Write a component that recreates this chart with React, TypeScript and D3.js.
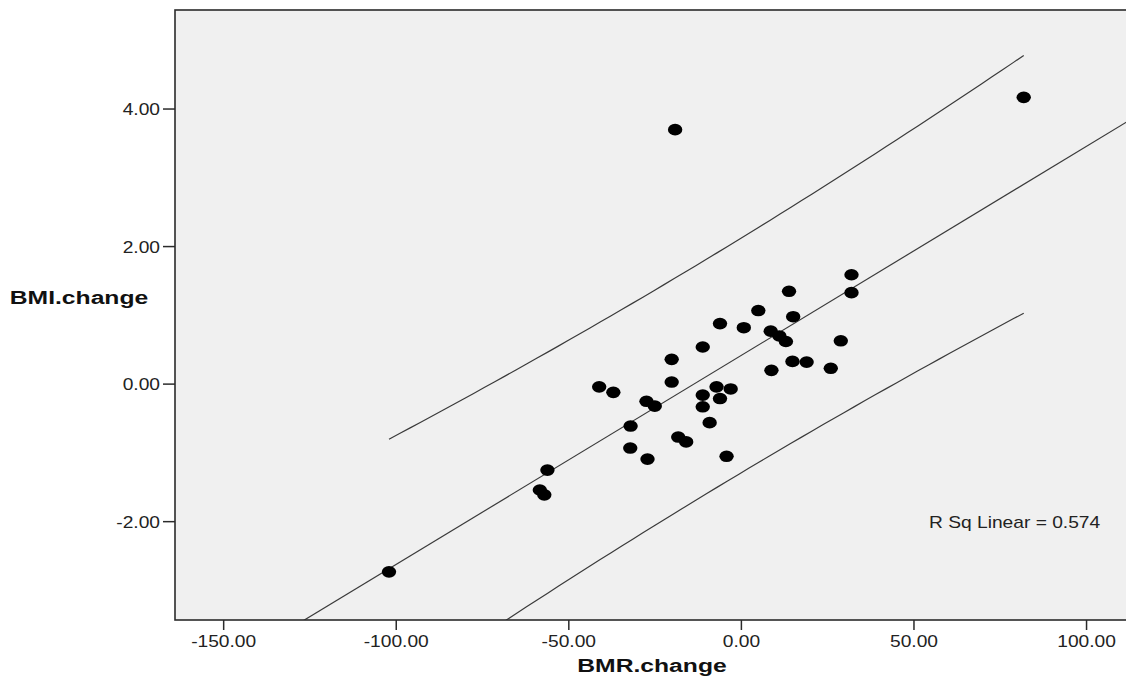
import { useEffect, useRef } from "react";
import * as d3 from "d3";

// BMR.change (x) and BMI.change (y) per subject
const bmrChange = [
  81.8, -19.2, 31.9, 13.8, 31.9, 4.9, 15.0, -6.2, 0.7, 8.5,
  11.0, 12.9, 28.8, -11.2, -20.2, 14.8, 18.9, 8.7, 25.9, -41.2,
  -37.1, -20.2, -7.2, -3.1, -11.2, -6.2, -27.5, -25.1, -11.2, -9.2,
  -32.1, -18.3, -16.0, -32.2, -27.2, -4.3, -56.2, -58.4, -57.1, -102.1,
];
const bmiChange = [
  4.17, 3.7, 1.59, 1.35, 1.33, 1.07, 0.98, 0.88, 0.82, 0.77,
  0.7, 0.62, 0.63, 0.54, 0.36, 0.33, 0.32, 0.2, 0.23, -0.04,
  -0.12, 0.03, -0.04, -0.07, -0.16, -0.21, -0.25, -0.32, -0.33, -0.56,
  -0.61, -0.77, -0.84, -0.93, -1.09, -1.05, -1.25, -1.54, -1.61, -2.73,
];
const xTicks = [-150, -100, -50, 0, 50, 100];
const yTicks = [-2, 0, 2, 4];
const xDomain = [-164.1, 112.3];
const yDomain = [-3.43, 5.44];
const rSqLabel = "R Sq Linear = 0.574";
const tCrit = 2.024; // t(0.975, df = 38)

export default function App() {
  const svgRef = useRef<SVGSVGElement | null>(null);

  useEffect(() => {
    const width = 1126;
    const height = 680;
    const plot = { left: 175, top: 10, right: 1129, bottom: 620 };

    const x = d3.scaleLinear().domain(xDomain).range([plot.left, plot.right]);
    const y = d3.scaleLinear().domain(yDomain).range([plot.bottom, plot.top]);

    const data = bmrChange.map((v, i) => ({ x: v, y: bmiChange[i] }));

    // least squares fit + 95% individual prediction interval
    const n = data.length;
    const xbar = d3.mean(data, (d) => d.x)!;
    const ybar = d3.mean(data, (d) => d.y)!;
    const sxx = d3.sum(data, (d) => (d.x - xbar) ** 2);
    const sxy = d3.sum(data, (d) => (d.x - xbar) * (d.y - ybar));
    const slope = sxy / sxx;
    const icpt = ybar - slope * xbar;
    const sse = d3.sum(data, (d) => (d.y - (icpt + slope * d.x)) ** 2);
    const s = Math.sqrt(sse / (n - 2));
    const half = (v: number) => tCrit * s * Math.sqrt(1 + 1 / n + (v - xbar) ** 2 / sxx);

    const svg = d3.select(svgRef.current);
    svg.selectAll("*").remove();
    svg.attr("width", width).attr("height", height);

    svg
      .append("defs")
      .append("clipPath")
      .attr("id", "plot-clip")
      .append("rect")
      .attr("x", plot.left)
      .attr("y", plot.top)
      .attr("width", plot.right - plot.left)
      .attr("height", plot.bottom - plot.top);

    // plot background
    svg
      .append("rect")
      .attr("x", plot.left)
      .attr("y", plot.top)
      .attr("width", plot.right - plot.left)
      .attr("height", plot.bottom - plot.top)
      .attr("fill", "#f0f0f0");

    const g = svg.append("g").attr("clip-path", "url(#plot-clip)");

    const line = d3
      .line<[number, number]>()
      .x((d) => x(d[0]))
      .y((d) => y(d[1]));

    // fit line spans the whole x axis
    g.append("path")
      .attr("d", line([
        [xDomain[0], icpt + slope * xDomain[0]],
        [xDomain[1], icpt + slope * xDomain[1]],
      ]))
      .attr("fill", "none")
      .attr("stroke", "#3a3a3a")
      .attr("stroke-width", 1.2);

    // prediction bands only over the observed range
    const [xmin, xmax] = d3.extent(bmrChange) as [number, number];
    const steps = d3.range(0, 61).map((k) => xmin + ((xmax - xmin) * k) / 60);
    [1, -1].forEach((sign) => {
      g.append("path")
        .attr("d", line(steps.map((v) => [v, icpt + slope * v + sign * half(v)])))
        .attr("fill", "none")
        .attr("stroke", "#3a3a3a")
        .attr("stroke-width", 1.2);
    });

    g.selectAll("ellipse")
      .data(data)
      .join("ellipse")
      .attr("cx", (d) => x(d.x))
      .attr("cy", (d) => y(d.y))
      .attr("rx", 7.2)
      .attr("ry", 5.8)
      .attr("fill", "#000");

    // frame
    svg
      .append("rect")
      .attr("x", plot.left)
      .attr("y", plot.top)
      .attr("width", plot.right - plot.left)
      .attr("height", plot.bottom - plot.top)
      .attr("fill", "none")
      .attr("stroke", "#2b2b2b")
      .attr("stroke-width", 1.6);

    const font = "'Liberation Sans', Arial, sans-serif";
    const fmt = (t: number) => t.toFixed(2);

    // x ticks
    xTicks.forEach((t) => {
      svg
        .append("line")
        .attr("x1", x(t))
        .attr("x2", x(t))
        .attr("y1", plot.bottom)
        .attr("y2", plot.bottom + 10)
        .attr("stroke", "#2b2b2b")
        .attr("stroke-width", 1.5);
      svg
        .append("text")
        .attr("transform", `translate(${x(t)},${plot.bottom + 27}) scale(1.2,1)`)
        .attr("text-anchor", "middle")
        .attr("font-family", font)
        .attr("font-size", 16)
        .attr("fill", "#222")
        .text(fmt(t));
    });

    // y ticks
    yTicks.forEach((t) => {
      svg
        .append("line")
        .attr("x1", plot.left - 12)
        .attr("x2", plot.left)
        .attr("y1", y(t))
        .attr("y2", y(t))
        .attr("stroke", "#2b2b2b")
        .attr("stroke-width", 1.5);
      svg
        .append("text")
        .attr("transform", `translate(${plot.left - 15},${y(t) + 6}) scale(1.2,1)`)
        .attr("text-anchor", "end")
        .attr("font-family", font)
        .attr("font-size", 16)
        .attr("fill", "#222")
        .text(fmt(t));
    });

    // axis titles
    svg
      .append("text")
      .attr("transform", `translate(652,672) scale(1.3,1)`)
      .attr("text-anchor", "middle")
      .attr("font-family", font)
      .attr("font-weight", "bold")
      .attr("font-size", 19)
      .attr("fill", "#111")
      .text("BMR.change");

    svg
      .append("text")
      .attr("transform", `translate(79,304) scale(1.3,1)`)
      .attr("text-anchor", "middle")
      .attr("font-family", font)
      .attr("font-weight", "bold")
      .attr("font-size", 19)
      .attr("fill", "#111")
      .text("BMI.change");

    svg
      .append("text")
      .attr("transform", `translate(929,528) scale(1.2,1)`)
      .attr("font-family", font)
      .attr("font-size", 16)
      .attr("fill", "#222")
      .text(rSqLabel);
  }, []);

  return (
    <div style={{ position: "absolute", left: 0, top: 0, width: 1126, height: 680, overflow: "hidden" }}>
      <svg ref={svgRef} style={{ display: "block" }}></svg>
    </div>
  );
}
